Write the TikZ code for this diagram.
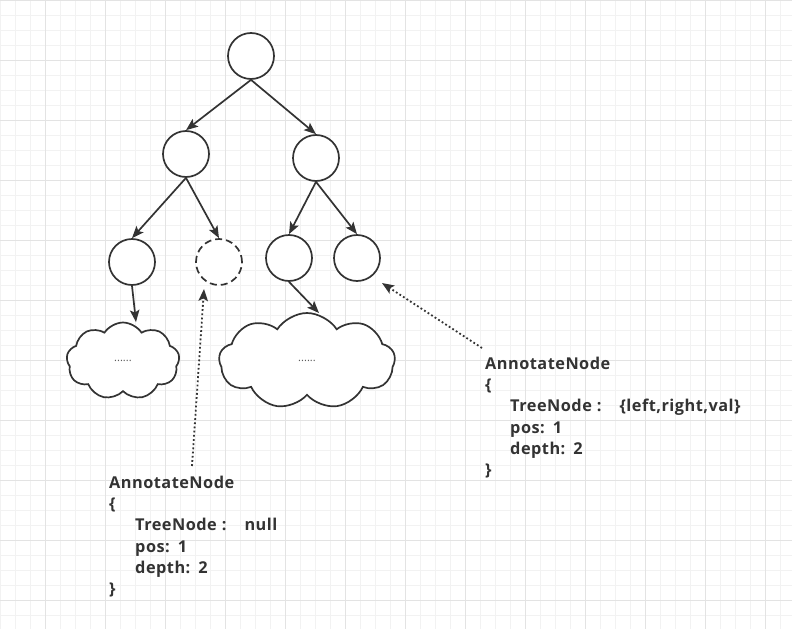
\documentclass[tikz,border=0pt]{standalone}
\usepackage{fontspec}
\setmainfont{Open Sans}
\usetikzlibrary{shapes.symbols,arrows.meta}
\definecolor{ink}{HTML}{333333}
\definecolor{gminor}{HTML}{F2F2F2}
\definecolor{gmajor}{HTML}{E3E3E3}
\tikzset{
  tn/.style={circle,draw=ink,line width=1.7pt,minimum size=46pt,inner sep=0pt,fill=white},
  tnd/.style={tn,dash pattern=on 7pt off 4pt},
  edge/.style={draw=ink,line width=1.7pt,-{Stealth[length=12pt,width=9.5pt,inset=2.5pt]}},
  dotedge/.style={draw=ink,line width=1.8pt,dash pattern=on 1.8pt off 2.4pt,-{Stealth[length=12pt,width=9.5pt,inset=2.5pt]}},
  cl/.style={cloud,cloud puffs=9,cloud puff arc=115,cloud ignores aspect,draw=ink,line width=1.7pt,fill=white,inner sep=0pt,font=\fontsize{11}{11}\selectfont,text=ink!80},
  txt/.style={anchor=base west,inner sep=0pt,text=ink,font=\bfseries\fontsize{16.3}{18}\selectfont\addfontfeature{LetterSpace=3}}
}
\begin{document}
\begin{tikzpicture}[x=1pt,y=-1pt]
\useasboundingbox (0,0) rectangle (792,629);
\fill[white] (0,0) rectangle (792,629);
\foreach \i in {0,15,...,795} {\draw[gminor,line width=0.8pt] (\i,0) -- (\i,629);}
\foreach \j in {0,15,...,630} {\draw[gminor,line width=0.8pt] (0,\j) -- (792,\j);}
\foreach \i in {45,105,...,795} {\draw[gmajor,line width=0.8pt] (\i,0) -- (\i,629);}
\foreach \j in {0,60,...,630} {\draw[gmajor,line width=0.8pt] (0,\j) -- (792,\j);}

\node[tn] (root) at (251,56) {};
\node[tn] (l) at (186,154) {};
\node[tn] (r) at (316,158) {};
\node[tn] (ll) at (132,262) {};
\node[tnd] (lr) at (219,262) {};
\node[tn] (rl) at (289,258) {};
\node[tn] (rr) at (357,258) {};

\node[cl,minimum width=113pt,minimum height=77pt] (c1) at (123,361) {......};
\node[cl,minimum width=176pt,minimum height=96pt] (c2) at (307,361) {......};

\draw[edge] (root.south) -- (l.north);
\draw[edge] (root.south) -- (r.north);
\draw[edge] (l.south) -- (ll.north);
\draw[edge] (l.south) -- (lr.north);
\draw[edge] (r.south) -- (rl.north);
\draw[edge] (r.south) -- (rr.north);
\coordinate (c1t) at (136,322);
\coordinate (c2t) at (319,313);
\draw[edge] (ll.south) -- (c1t);
\draw[edge] (rl.south) -- (c2t);

\coordinate (d1s) at (192,466);
\coordinate (d1e) at (204,289);
\coordinate (d2s) at (482,348);
\coordinate (d2e) at (382,283);
\draw[dotedge] (d1s) -- (d1e);
\draw[dotedge] (d2s) -- (d2e);

\node[txt] (a1) at (109,488) {AnnotateNode};
\node[txt] (a2) at (109,509.5) {\{};
\node[txt] (a3) at (135,530.5) {TreeNode\hspace{5pt}:\hspace{18pt}null};
\node[txt] (a4) at (135,552) {pos:\hspace{8pt}1};
\node[txt] (a5) at (135,573) {depth:\hspace{8pt}2};
\node[txt] (a6) at (109,594) {\}};

\node[txt] (b1) at (485,369) {AnnotateNode};
\node[txt] (b2) at (485,390.5) {\{};
\node[txt] (b3) at (510,411.5) {TreeNode\hspace{5pt}:\hspace{18pt}\{left,right,val\}};
\node[txt] (b4) at (510,433) {pos:\hspace{8pt}1};
\node[txt] (b5) at (510,454) {depth:\hspace{8pt}2};
\node[txt] (b6) at (485,475) {\}};
\end{tikzpicture}
\end{document}
